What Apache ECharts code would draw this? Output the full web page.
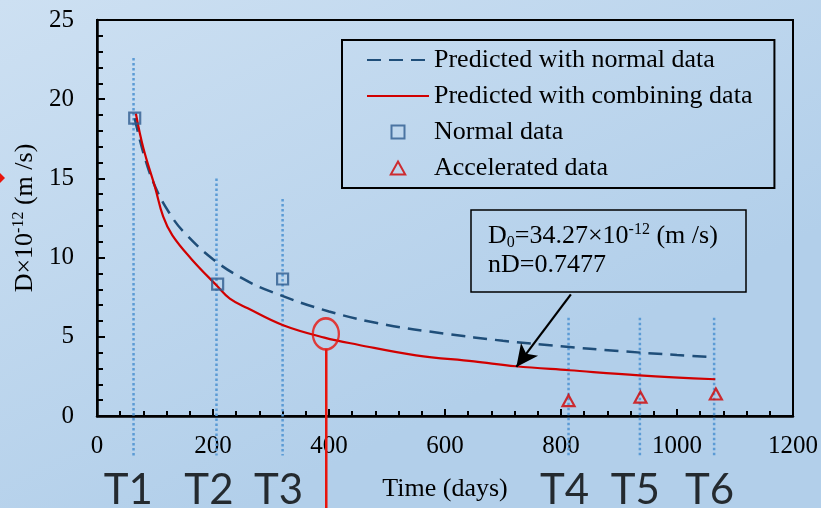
<!DOCTYPE html>
<html>
<head>
<meta charset="utf-8">
<script src="https://cdn.jsdelivr.net/npm/echarts@6/dist/echarts.min.js"></script>
<style>
html,body{margin:0;padding:0;}
#c{width:821px;height:508px;}
</style>
</head>
<body>
<div id="c"></div>
<script>
// ---- data ----
const normalCurveX = [65, 80, 100, 125, 150, 200, 250, 300, 400, 500, 600, 700, 800, 900, 1000, 1060];
const normalCurveY = [18.8, 16.6, 14.5, 12.8, 11.6, 9.9, 8.7, 7.85, 6.6, 5.75, 5.2, 4.75, 4.4, 4.1, 3.85, 3.73];
const combinedCurveX = [67, 80, 100, 114, 130, 163, 206, 229, 260, 321, 392, 450, 550, 650, 722, 814, 935, 1066];
const combinedCurveY = [19.1, 16.9, 14.45, 12.6, 11.4, 9.9, 8.25, 7.41, 6.8, 5.73, 4.95, 4.5, 3.83, 3.45, 3.14, 2.89, 2.57, 2.32];
const normalDataX = [65, 208, 320];
const normalDataY = [18.8, 8.33, 8.65];
const accelDataX = [813, 937, 1067];
const accelDataY = [0.97, 1.19, 1.39];
const tLineX = [63, 206, 320, 813, 936, 1064];
const tLineTop = [22.6, 15.0, 13.7, 6.2, 6.2, 6.2];
const tLineBottom = -2.5;
const tLabels = ['T1', 'T2', 'T3', 'T4', 'T5', 'T6'];
const tLabelX = [54, 193, 313, 806, 928, 1056];
const tLabelY = -4.7;
const circleMark = [394.6, 5.18];
const pointerY = [4.21, -6];
const arrowFrom = [817, 7.68];
const arrowTo = [723, 3.1];
const seriesNames = ['Predicted with normal data', 'Predicted with combining data', 'Normal data', 'Accelerated data'];

const serif = "'Liberation Serif', 'Times New Roman', serif";
const zip = (xs, ys) => xs.map((x, i) => [x, ys[i]]);

const series = [];
tLineX.forEach((x, i) => {
  series.push({
    type: 'line', silent: true, clip: false, symbol: 'none', z: 1,
    data: [[x, tLineTop[i]], [x, tLineBottom]],
    lineStyle: { color: '#5b9bd5', width: 2.5, type: [2.5, 2.5] }
  });
});
series.push({
  name: seriesNames[0], type: 'line', symbol: 'none', showSymbol: false, smooth: 0.4,
  data: zip(normalCurveX, normalCurveY), z: 3,
  lineStyle: { color: '#1f4e79', width: 2.5, type: [14, 8] }, itemStyle: { color: '#1f4e79' }
});
series.push({
  name: seriesNames[1], type: 'line', symbol: 'none', showSymbol: false, smooth: 0.4,
  data: zip(combinedCurveX, combinedCurveY), z: 3,
  lineStyle: { color: '#d10000', width: 2.2 }, itemStyle: { color: '#d10000' }
});
series.push({
  name: seriesNames[2], type: 'scatter', symbol: 'rect', symbolSize: 11, z: 4,
  data: zip(normalDataX, normalDataY),
  itemStyle: { color: 'rgba(0,0,0,0)', borderColor: '#2e5b8f', borderWidth: 2.2 }
});
series.push({
  name: seriesNames[3], type: 'scatter', symbol: 'triangle', symbolSize: [12, 11], z: 4,
  data: zip(accelDataX, accelDataY),
  itemStyle: { color: 'rgba(0,0,0,0)', borderColor: '#d10000', borderWidth: 2.2 }
});
// T labels
series.push({
  type: 'scatter', silent: true, clip: false, symbolSize: 0, z: 6,
  data: tLabelX.map((x, i) => ({ value: [x, tLabelY], label: { formatter: tLabels[i] } })),
  label: { show: true, position: 'inside', color: '#000', fontSize: 42, fontFamily: "Lato, 'Open Sans', sans-serif" }
});
// red circle annotation + pointer
series.push({
  type: 'scatter', silent: true, clip: false, z: 5, symbol: 'circle', symbolSize: [26, 31],
  data: [circleMark],
  itemStyle: { color: 'rgba(0,0,0,0)', borderColor: '#e8140c', borderWidth: 2.5 }
});
series.push({
  type: 'line', silent: true, clip: false, symbol: 'none', z: 5,
  data: pointerY.map(y => [circleMark[0] + 0.7, y]),
  lineStyle: { color: '#e8140c', width: 2.5 }
});
// arrow
series.push({
  type: 'line', silent: true, data: [], z: 6,
  markLine: {
    silent: true, animation: false, symbol: ['none', 'arrow'], symbolSize: [16, 22],
    lineStyle: { color: '#000', width: 2.2, type: 'solid' }, label: { show: false },
    data: [[{ coord: arrowFrom }, { coord: arrowTo }]]
  }
});

const noSym = { color: 'rgba(0,0,0,0)', borderWidth: 0, opacity: 0 };
const option = {
  animation: false,
  backgroundColor: {
    type: 'linear', x: 0, y: 0, x2: 0.3, y2: 1,
    colorStops: [{ offset: 0, color: '#cde0f2' }, { offset: 1, color: '#b2cfea' }]
  },
  grid: { left: 97, top: 20, right: 27, bottom: 92, show: true, borderColor: '#000', borderWidth: 2, backgroundColor: 'transparent' },
  legend: {
    data: [
      { name: seriesNames[0], itemStyle: noSym },
      { name: seriesNames[1], itemStyle: noSym },
      { name: seriesNames[2], icon: 'path://M0,0 L10,0 L10,10 L0,10 Z' },
      { name: seriesNames[3], icon: 'path://M5,0 L10,9 L0,9 Z' }
    ],
    orient: 'vertical', left: 342, top: 40, symbolKeepAspect: true,
    itemWidth: 62, itemHeight: 13, itemGap: 10, itemTextGap: 6,
    padding: [7, 22, 7, 24], borderColor: '#000', borderWidth: 2,
    textStyle: { fontFamily: serif, fontSize: 26, color: '#000', lineHeight: 26 }
  },
  xAxis: {
    type: 'value', min: 0, max: 1200, interval: 200,
    name: 'Time (days)', nameLocation: 'middle', nameGap: 60,
    nameTextStyle: { fontFamily: serif, fontSize: 26, color: '#000' },
    axisLine: { show: true, lineStyle: { color: '#000', width: 2.5 } },
    axisTick: { show: true, inside: true, length: 7, lineStyle: { color: '#000', width: 2 } },
    minorTick: { show: true, splitNumber: 5, length: 5, lineStyle: { color: '#000', width: 2 } },
    splitLine: { show: false },
    axisLabel: { fontFamily: serif, fontSize: 25, color: '#000', margin: 18, formatter: v => String(v) }
  },
  yAxis: {
    type: 'value', min: 0, max: 25, interval: 5,
    name: '{n|D×10}{sup|-12}{n| (m /s)}', nameLocation: 'middle', nameGap: 51, nameRotate: 90,
    nameTextStyle: {
      rich: {
        n: { fontFamily: serif, fontSize: 26, color: '#000', lineHeight: 28 },
        sup: { fontFamily: serif, fontSize: 16, color: '#000', verticalAlign: 'top', lineHeight: 28 }
      }
    },
    axisLine: { show: true, lineStyle: { color: '#000', width: 2.5 } },
    axisTick: { show: true, inside: true, length: 8, lineStyle: { color: '#000', width: 2 } },
    minorTick: { show: true, splitNumber: 5, length: 6, lineStyle: { color: '#000', width: 2 } },
    splitLine: { show: false },
    axisLabel: { fontFamily: serif, fontSize: 25, color: '#000', margin: 23 }
  },
  graphic: [
    { type: 'polygon', shape: { points: [[0, 173], [5, 178], [0, 183]] }, style: { fill: '#e8140c' } },
    { type: 'rect', shape: { x: 471, y: 210, width: 275, height: 82 }, style: { fill: 'none', stroke: '#000', lineWidth: 1.5 }, z: 10 },
    {
      type: 'text', left: 488, top: 222, z: 11,
      style: {
        text: '{n|D}{sub|0}{n|=34.27×10}{sup|-12}{n| (m /s)}\n{n|nD=0.7477}',
        rich: {
          n: { fontFamily: serif, fontSize: 26, fill: '#000', lineHeight: 29 },
          sub: { fontFamily: serif, fontSize: 16, fill: '#000', verticalAlign: 'bottom', lineHeight: 29 },
          sup: { fontFamily: serif, fontSize: 16, fill: '#000', verticalAlign: 'top', lineHeight: 29 }
        }
      }
    }
  ],
  series: series
};

const chart = echarts.init(document.getElementById('c'), null, { renderer: 'canvas' });
chart.setOption(option);
</script>
</body>
</html>
